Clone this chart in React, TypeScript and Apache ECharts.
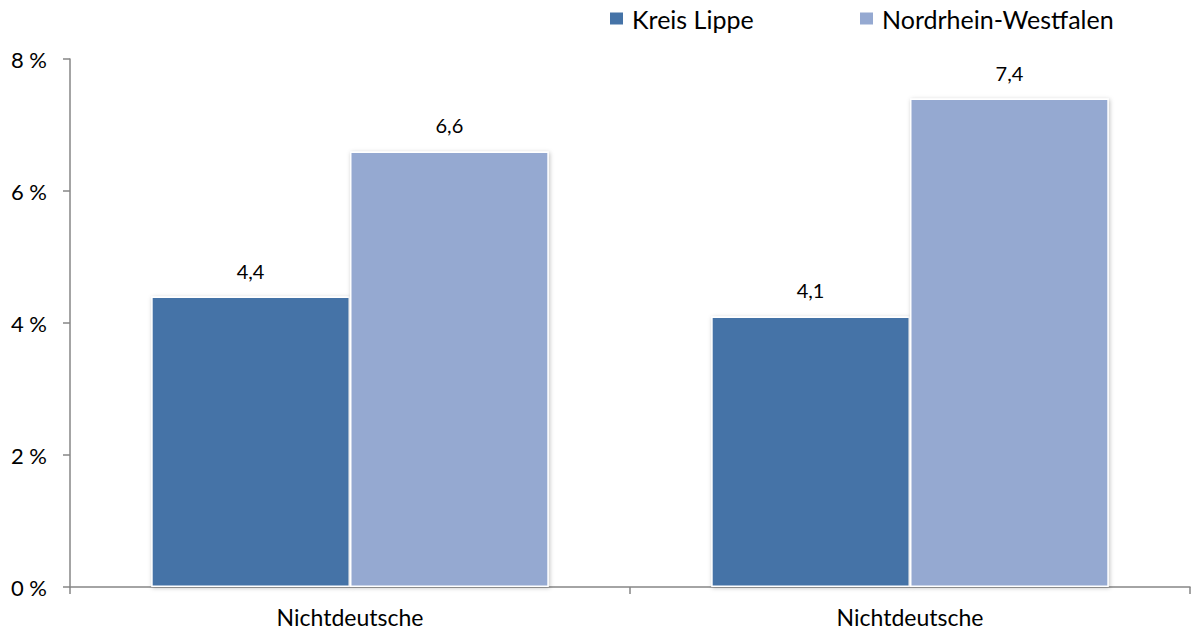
import React, { useEffect, useRef } from "react";
import * as echarts from "echarts";

const categories = ["Nichtdeutsche", "Nichtdeutsche"];
const seriesNames = ["Kreis Lippe", "Nordrhein-Westfalen"];
const kreisLippe = [4.4, 4.1];
const nrw = [6.6, 7.4];
const yTicks = [0, 2, 4, 6, 8];

const FONT = "Lato, 'Open Sans', sans-serif";
const COLORS = ["#4573a7", "#95a9d1"];

export default function App() {
  const ref = useRef<HTMLDivElement>(null);
  useEffect(() => {
    if (!ref.current) return;
    const chart = echarts.init(ref.current, undefined, { renderer: "svg" });
    const labelFmt = (p: any) => String(p.value).replace(".", ",");
    const legendBase = {
      top: 6,
      padding: 0,
      itemWidth: 15,
      itemHeight: 14,
      icon: "rect",
      textStyle: { fontSize: 25, color: "#000", fontFamily: FONT, padding: [0, 0, 0, 3] },
    };
    const makeSeries = (i: number, data: number[]) => ({
      name: seriesNames[i],
      type: "bar",
      data,
      barGap: "0%",
      barCategoryGap: "29%",
      itemStyle: {
        color: COLORS[i],
        borderColor: "#ffffff",
        borderWidth: 1.5,
        shadowColor: "rgba(0,0,0,0.25)",
        shadowBlur: 4,
        shadowOffsetX: 1,
        shadowOffsetY: 1,
      },
      label: {
        show: true,
        position: "top",
        distance: 16,
        fontSize: 20,
        color: "#000",
        fontFamily: FONT,
        formatter: labelFmt,
      },
    });
    chart.setOption({
      animation: false,
      textStyle: { fontFamily: FONT },
      legend: [
        { ...legendBase, data: [seriesNames[0]], left: 608 },
        { ...legendBase, data: [seriesNames[1]], left: 858 },
      ],
      grid: { left: 70, right: 2, top: 59, bottom: 45, containLabel: false },
      xAxis: {
        type: "category",
        data: categories,
        axisLine: { lineStyle: { color: "#868686", width: 1.5 } },
        axisTick: { show: true, length: 7, lineStyle: { color: "#868686", width: 1.5 } },
        axisLabel: { fontSize: 23, color: "#000", margin: 18, fontFamily: FONT },
      },
      yAxis: {
        type: "value",
        min: yTicks[0],
        max: yTicks[yTicks.length - 1],
        interval: 2,
        splitLine: { show: false },
        axisLine: { show: true, lineStyle: { color: "#868686", width: 1.5 } },
        axisTick: { show: true, length: 7, lineStyle: { color: "#868686", width: 1.5 } },
        axisLabel: {
          fontSize: 22,
          color: "#000",
          margin: 23,
          fontFamily: FONT,
          formatter: (v: number) => `${v} %`,
        },
      },
      series: [makeSeries(0, kreisLippe), makeSeries(1, nrw)],
    });
    return () => chart.dispose();
  }, []);
  return (
    <div
      ref={ref}
      style={{ position: "fixed", left: 0, top: 0, width: 1192, height: 632, background: "#fff" }}
    />
  );
}
